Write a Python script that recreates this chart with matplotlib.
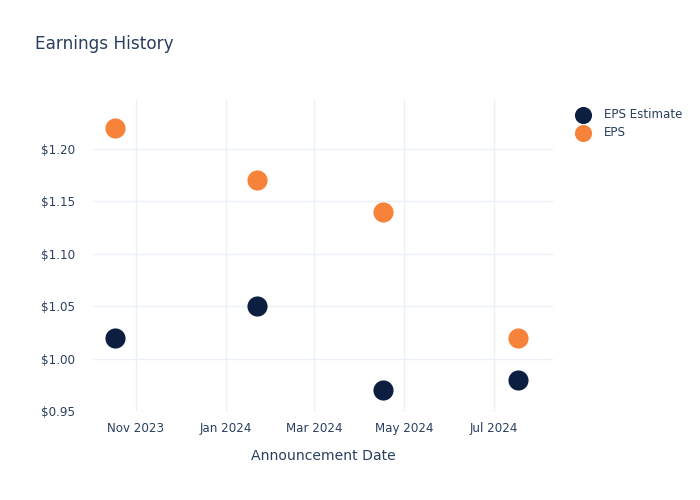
import matplotlib
matplotlib.use("Agg")
import matplotlib.pyplot as plt
import matplotlib.dates as mdates
from matplotlib.ticker import FuncFormatter
import pandas as pd

# Earnings data
dates = pd.to_datetime(["2023-10-18", "2024-01-22", "2024-04-17", "2024-07-17"])
eps_estimate = [1.02, 1.05, 0.97, 0.98]
eps_actual = [1.22, 1.17, 1.14, 1.02]

TEXT = "#2a3f5f"
GRID = "#ebf0f8"

fig = plt.figure(figsize=(7, 5), dpi=100)
ax = fig.add_axes([93 / 700, 1 - 411 / 500, 460 / 700, 311 / 500])

ax.scatter(dates, eps_estimate, s=210, color="#0c1f40", label="EPS Estimate",
           zorder=3, linewidths=0)
ax.scatter(dates, eps_actual, s=210, color="#f7833a", label="EPS",
           zorder=3, linewidths=0)

ax.set_xlim(pd.Timestamp("2023-10-03"), pd.Timestamp("2024-08-10"))
ax.set_ylim(0.95, 1.2467)
ax.set_yticks([0.95, 1.00, 1.05, 1.10, 1.15, 1.20])
ax.yaxis.set_major_formatter(FuncFormatter(lambda v, _: f"${v:.2f}"))
ax.xaxis.set_major_locator(mdates.MonthLocator(bymonth=[1, 3, 5, 7, 11]))
ax.xaxis.set_major_formatter(mdates.DateFormatter("%b %Y"))

ax.grid(True, color=GRID, linewidth=1)
ax.set_axisbelow(True)
for sp in ax.spines.values():
    sp.set_visible(False)
ax.tick_params(length=0, labelsize=8.6, colors=TEXT, pad=8)
ax.tick_params(axis="y", pad=13)

ax.set_xlabel("Announcement Date", fontsize=10.1, color=TEXT, labelpad=10)

fig.text(35 / 700, 1 - 44 / 500, "Earnings History", fontsize=12.2,
         color=TEXT, va="center", ha="left")

leg = ax.legend(loc="upper left", bbox_to_anchor=(1.029, 0.99), frameon=False,
                fontsize=8.6, labelcolor=TEXT, handletextpad=0.75,
                borderaxespad=0, labelspacing=0.45, markerscale=0.85)

fig.savefig("out.png", dpi=100)
